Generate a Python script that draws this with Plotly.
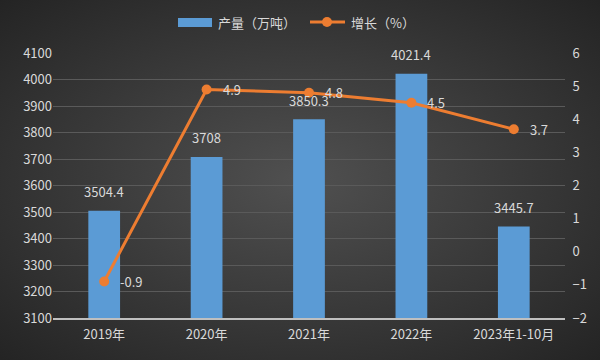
import plotly.graph_objects as go
import base64

categories = ["2019年", "2020年", "2021年", "2022年", "2023年1-10月"]
output_vals = [3504.4, 3708, 3850.3, 4021.4, 3445.7]
output_labels = ["3504.4", "3708", "3850.3", "4021.4", "3445.7"]
growth_vals = [-0.9, 4.9, 4.8, 4.5, 3.7]
growth_labels = ["-0.9", "4.9", "4.8", "4.5", "3.7"]
left_ticks = list(range(3100, 4101, 100))
right_ticks = list(range(-2, 7, 1))
legend_names = ["产量（万吨）", "增长（%）"]

FONT = "Noto Sans CJK SC, Microsoft YaHei, sans-serif"
TXT = "#d9d9d9"
BAR = "#5b9bd5"
LINE = "#ed7d31"

W, H = 600, 360
ML, MR, MT, MB = 53, 35, 53, 42
PW, PH = W - ML - MR, H - MT - MB


def px(x):
    return (x - ML) / PW


def py(y):
    return (H - MB - y) / PH


svg = ('<svg xmlns="http://www.w3.org/2000/svg" width="600" height="360">'
       '<defs><radialGradient id="g" cx="50%" cy="50%" r="72%">'
       '<stop offset="0%" stop-color="#505050"/>'
       '<stop offset="100%" stop-color="#232323"/>'
       '</radialGradient></defs>'
       '<rect width="600" height="360" fill="url(#g)"/></svg>')
bg_src = "data:image/svg+xml;base64," + base64.b64encode(svg.encode()).decode()

fig = go.Figure()
fig.add_trace(go.Bar(
    x=categories, y=output_vals, name=legend_names[0],
    marker=dict(color=BAR, line=dict(width=0)),
    yaxis="y",
))
fig.add_trace(go.Scatter(
    x=categories, y=growth_vals, name=legend_names[1], yaxis="y2",
    mode="lines+markers",
    line=dict(color=LINE, width=3),
    marker=dict(color=LINE, size=10),
))
for c, v, t in zip(categories, output_vals, output_labels):
    fig.add_annotation(x=c, y=v, yref="y", text=t, showarrow=False,
                       yshift=19, font=dict(color=TXT, size=13, family=FONT))
for c, v, t in zip(categories, growth_vals, growth_labels):
    fig.add_annotation(x=c, y=v, yref="y2", text=t, showarrow=False,
                       xanchor="left", yanchor="middle", xshift=14,
                       font=dict(color=TXT, size=13, family=FONT))

# custom legend
shapes = [
    dict(type="rect", xref="paper", yref="paper", x0=px(178), x1=px(212),
         y0=py(27), y1=py(18), fillcolor=BAR, line=dict(width=0)),
    dict(type="line", xref="paper", yref="paper", x0=px(310), x1=px(345),
         y0=py(22), y1=py(22), line=dict(color=LINE, width=3)),
    dict(type="circle", xref="paper", yref="paper", x0=px(322), x1=px(332),
         y0=py(27), y1=py(17), fillcolor=LINE, line=dict(width=0)),
]
fig.add_annotation(x=px(216), y=py(22), xref="paper", yref="paper", text=legend_names[0],
                   showarrow=False, xanchor="left", yanchor="middle",
                   font=dict(color=TXT, size=13, family=FONT))
fig.add_annotation(x=px(349), y=py(22), xref="paper", yref="paper", text=legend_names[1],
                   showarrow=False, xanchor="left", yanchor="middle",
                   font=dict(color=TXT, size=13, family=FONT))

fig.update_layout(
    width=W, height=H,
    margin=dict(l=ML, r=MR, t=MT, b=MB, autoexpand=False),
    paper_bgcolor="#333333",
    plot_bgcolor="rgba(0,0,0,0)",
    font=dict(family=FONT, color=TXT, size=13),
    bargap=0.69,
    showlegend=False,
    shapes=shapes,
    xaxis=dict(showgrid=False, showline=True, linecolor="#bfbfbf", linewidth=1.5,
               ticks="", tickfont=dict(color=TXT, size=13), ticklabelstandoff=4),
    yaxis=dict(range=[3100, 4100], tickvals=left_ticks, showgrid=True,
               gridcolor="#5a5a5a", gridwidth=1, zeroline=False, showline=False,
               tickfont=dict(color=TXT, size=13), ticks="", automargin=False),
    yaxis2=dict(range=[-2, 6], tickvals=right_ticks, overlaying="y", side="right",
                showgrid=False, zeroline=False, showline=False, automargin=False,
                tickfont=dict(color=TXT, size=13), ticks="outside", ticklen=4,
                tickcolor="rgba(0,0,0,0)"),
    images=[dict(source=bg_src, xref="paper", yref="paper", x=-ML / PW, y=1 + MT / PH,
                 sizex=W / PW, sizey=H / PH, sizing="stretch", layer="below",
                 xanchor="left", yanchor="top")],
)
fig.write_html("out.html", config={"displayModeBar": False},
               post_script="document.body.style.margin='0';document.body.style.padding='0';")
